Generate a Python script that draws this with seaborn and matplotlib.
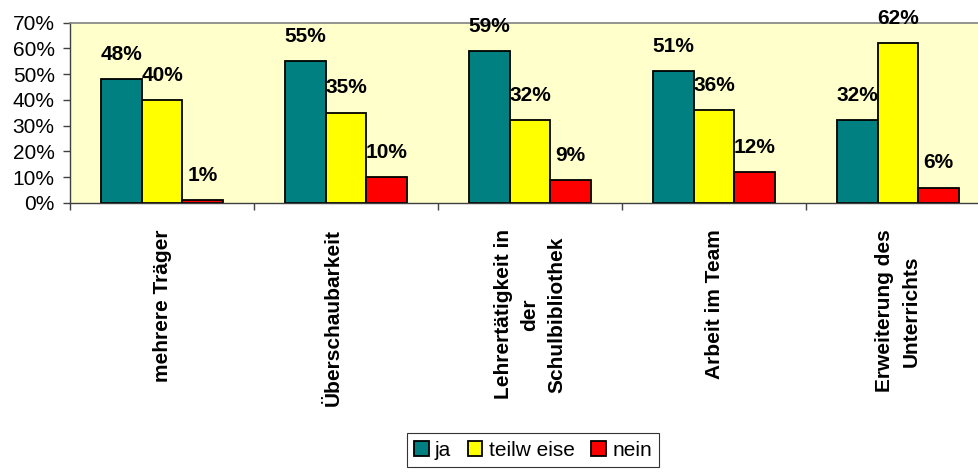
import pandas as pd
import matplotlib
matplotlib.use("Agg")
import matplotlib.pyplot as plt
import seaborn as sns
from matplotlib.ticker import FixedLocator, FuncFormatter

# survey answers per category (percent)
categories = ["mehrere Träger", "Überschaubarkeit\n ", "Lehrertätigkeit in\nder\nSchulbibliothek",
              "Arbeit im Team", "Erweiterung des\nUnterrichts"]
series = ["ja", "teilw eise", "nein"]
ja = [48, 55, 59, 51, 32]
teilweise = [40, 35, 32, 36, 62]
nein = [1, 10, 9, 12, 6]
colors = ["#008080", "#FFFF00", "#FF0000"]

df = pd.DataFrame({
    "kategorie": categories * 3,
    "antwort": [series[0]] * 5 + [series[1]] * 5 + [series[2]] * 5,
    "wert": ja + teilweise + nein,
})

sns.set_style("white")
plt.rcParams["font.family"] = ["Liberation Sans", "DejaVu Sans"]
plt.rcParams["text.color"] = "black"
plt.rcParams["xtick.color"] = "black"
plt.rcParams["ytick.color"] = "black"

fig = plt.figure(figsize=(9.79, 4.74), dpi=100)
ax = fig.add_axes([70 / 979, 1 - 203 / 474, 920 / 979, (203 - 22.5) / 474])

sns.barplot(data=df, x="kategorie", y="wert", hue="antwort", order=categories,
            hue_order=series, palette=colors, width=0.66, edgecolor="black",
            linewidth=1.3, saturation=1, ax=ax)

ax.set_facecolor("#FFFFCC")
ax.set_xlim(-0.5, 4.5)
ax.set_ylim(0, 70)
ax.set_xlabel("")
ax.set_ylabel("")

# value labels on top of bars
for cont, vals in zip(ax.containers, [ja, teilweise, nein]):
    ax.bar_label(cont, labels=[f"{v}%" for v in vals], padding=11,
                 fontsize=15, fontweight="bold", color="black")

ax.set_yticks(range(0, 71, 10))
ax.yaxis.set_major_formatter(FuncFormatter(lambda v, p: f"{int(v)}%"))
ax.tick_params(axis="y", labelsize=15, length=5, width=1, color="#404040",
               labelcolor="black", direction="out", pad=6, left=True)

# category labels at centres, tick marks between groups
ax.set_xticks(range(5))
ax.set_xticklabels(categories, rotation=90, fontsize=15, fontweight="bold",
                   multialignment="center", linespacing=1.5)
ax.tick_params(axis="x", which="major", length=0, pad=19, labelcolor="black")
ax.xaxis.set_minor_locator(FixedLocator([-0.5, 0.5, 1.5, 2.5, 3.5]))
ax.tick_params(axis="x", which="minor", length=5, width=1, color="#404040",
               direction="out", bottom=True)

for s in ["left", "bottom"]:
    ax.spines[s].set_color("#404040")
    ax.spines[s].set_linewidth(1)
ax.spines["top"].set_color("#808080")
ax.spines["top"].set_linewidth(1.2)
ax.spines["right"].set_visible(False)

handles, labels = ax.get_legend_handles_labels()
ax.get_legend().remove()
leg = fig.legend(handles, labels, loc="center", bbox_to_anchor=(533 / 979, 1 - 450 / 474),
                 ncol=3, fontsize=15, frameon=True, fancybox=False, handlelength=0.7,
                 handleheight=0.7, handletextpad=0.3, columnspacing=0.8,
                 borderpad=0.35, edgecolor="black")
leg.get_frame().set_linewidth(0.8)
for t in leg.get_texts():
    t.set_color("black")

fig.savefig("out.png", dpi=100)
